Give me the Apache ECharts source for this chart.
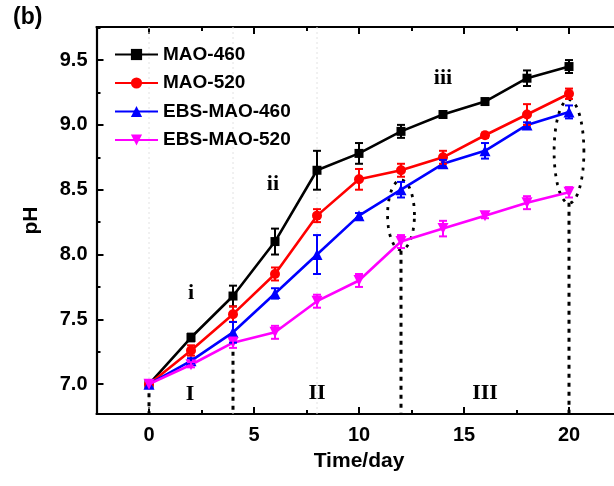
<!DOCTYPE html>
<html>
<head>
<meta charset="utf-8">
<script src="https://cdn.jsdelivr.net/npm/echarts@6/dist/echarts.min.js"></script>
<style>html,body{margin:0;padding:0;background:#fff}#c{width:614px;height:486px}</style>
</head>
<body>
<div id="c"></div>
<script>
// ---- data ----
const days = [0, 2, 4, 6, 8, 10, 12, 14, 16, 18, 20];
const mao460 = [7.00, 7.36, 7.68, 8.10, 8.65, 8.78, 8.95, 9.08, 9.18, 9.36, 9.45];
const mao460Err = [0, 0.03, 0.08, 0.10, 0.15, 0.08, 0.05, 0.02, 0.02, 0.06, 0.05];
const mao520 = [7.00, 7.26, 7.54, 7.85, 8.30, 8.58, 8.65, 8.75, 8.92, 9.08, 9.24];
const mao520Err = [0, 0.04, 0.06, 0.05, 0.05, 0.08, 0.05, 0.05, 0.02, 0.08, 0.04];
const ebs460 = [7.00, 7.18, 7.40, 7.70, 8.00, 8.30, 8.50, 8.70, 8.80, 9.00, 9.10];
const ebs460Err = [0, 0.02, 0.08, 0.04, 0.15, 0.02, 0.06, 0.03, 0.06, 0.02, 0.05];
const ebs520 = [7.00, 7.15, 7.32, 7.40, 7.64, 7.80, 8.10, 8.20, 8.30, 8.40, 8.48];
const ebs520Err = [0, 0.02, 0.04, 0.05, 0.05, 0.05, 0.05, 0.06, 0.02, 0.05, 0.04];
const seriesNames = ['MAO-460', 'MAO-520', 'EBS-MAO-460', 'EBS-MAO-520'];
const xTicks = [0, 5, 10, 15, 20];
const xMinorTicks = [2.5, 7.5, 12.5, 17.5];
const yTicks = [7.0, 7.5, 8.0, 8.5, 9.0, 9.5];
const yMinorTicks = [7.25, 7.75, 8.25, 8.75, 9.25, 9.75];
// annotations (data coordinates)
const dropLines = [[0, 7.0], [4, 7.25], [12, 8.03], [20, 8.40]];
const faintLines = [0, 4, 8];
const ellipses = [[12, 8.305, 0.64, 0.27], [20, 8.795, 0.71, 0.40]];
const stageLabels = [['i', 2, 7.70], ['ii', 5.9, 8.54], ['iii', 14.0, 9.36], ['I', 1.95, 6.925], ['II', 8, 6.93], ['III', 16, 6.93]];

const colors = ['#000000', '#ff0000', '#0000ff', '#ff00ff'];
const symbols = ['rect', 'circle', 'triangle', 'path://M0,0 L10,0 L5,9 Z'];
const symbolSizes = [9, 10, 11, 11];
const values = [mao460, mao520, ebs460, ebs520];
const errs = [mao460Err, mao520Err, ebs460Err, ebs520Err];

const YMIN = 6.77, YMAX = 9.755, XMIN = -2.5, XMAX = 22.5;
const SANS = 'Liberation Sans, Arial, sans-serif';
const SERIF = 'Liberation Serif, Times New Roman, serif';

const chart = echarts.init(document.getElementById('c'), null, {renderer: 'canvas'});

function xAxisDef(pos, ticks, len, showLabel, showLine, name) {
  return {
    type: 'value', position: pos, min: XMIN, max: XMAX, gridIndex: 0,
    axisLine: {show: showLine, onZero: false, lineStyle: {color: '#000', width: 2.2}},
    axisTick: {show: true, inside: true, length: len, customValues: ticks, lineStyle: {color: '#000', width: 2}},
    axisLabel: {show: showLabel, customValues: ticks, margin: 11, color: '#000', fontSize: 20, fontWeight: 'bold', fontFamily: SANS},
    splitLine: {show: false},
    name: name || '', nameLocation: 'middle', nameGap: 37,
    nameTextStyle: {color: '#000', fontSize: 21, fontWeight: 'bold', fontFamily: SANS}
  };
}
function yAxisDef(ticks, len, showLabel, showLine, name) {
  return {
    type: 'value', position: 'left', min: YMIN, max: YMAX, gridIndex: 0,
    axisLine: {show: showLine, onZero: false, lineStyle: {color: '#000', width: 2.2}},
    axisTick: {show: true, inside: true, length: len, customValues: ticks, lineStyle: {color: '#000', width: 2}},
    axisLabel: {show: showLabel, customValues: ticks, margin: 9, color: '#000', fontSize: 20, fontWeight: 'bold', fontFamily: SANS,
      formatter: v => v.toFixed(1)},
    splitLine: {show: false},
    name: name || '', nameLocation: 'middle', nameGap: 55, nameRotate: 90,
    nameTextStyle: {color: '#000', fontSize: 21, fontWeight: 'bold', fontFamily: SANS}
  };
}

const series = [];

// faint guide lines
series.push({
  type: 'custom', name: 'faint', xAxisIndex: 0, yAxisIndex: 0, z: 1, silent: true,
  data: faintLines.map(x => [x]),
  renderItem: (params, api) => {
    const p1 = api.coord([api.value(0), YMIN]);
    const p2 = api.coord([api.value(0), YMAX]);
    return {type: 'line', shape: {x1: p1[0], y1: p1[1], x2: p2[0], y2: p2[1]},
      style: {stroke: '#e2e2e2', lineWidth: 1, lineDash: [2, 3]}};
  }
});
// black dotted drop lines
series.push({
  type: 'custom', name: 'drop', xAxisIndex: 0, yAxisIndex: 0, z: 2, silent: true,
  data: dropLines,
  renderItem: (params, api) => {
    const p1 = api.coord([api.value(0), api.value(1)]);
    const p2 = api.coord([api.value(0), YMIN]);
    return {type: 'line', shape: {x1: p1[0], y1: p1[1], x2: p2[0], y2: p2[1]},
      style: {stroke: '#000', lineWidth: 3, lineDash: [4, 5]}};
  }
});
// ellipses
series.push({
  type: 'custom', name: 'ellipse', xAxisIndex: 0, yAxisIndex: 0, z: 2, silent: true,
  data: ellipses,
  renderItem: (params, api) => {
    const cx = api.value(0), cy = api.value(1), rx = api.value(2), ry = api.value(3);
    const pts = [];
    for (let k = 0; k < 72; k++) {
      const a = k / 72 * Math.PI * 2;
      pts.push(api.coord([cx + rx * Math.cos(a), cy + ry * Math.sin(a)]));
    }
    return {type: 'polygon', shape: {points: pts},
      style: {fill: 'none', stroke: '#000', lineWidth: 2.8, lineDash: [3, 6]}};
  }
});

values.forEach((vals, i) => {
  series.push({
    type: 'line', name: seriesNames[i], xAxisIndex: 0, yAxisIndex: 0, z: 3 + i,
    data: days.map((d, j) => [d, vals[j]]),
    symbol: symbols[i], symbolSize: symbolSizes[i], showSymbol: true,
    itemStyle: {color: colors[i]},
    lineStyle: {color: colors[i], width: 2.6},
    animation: false
  });
  series.push({
    type: 'custom', name: seriesNames[i] + '-err', xAxisIndex: 0, yAxisIndex: 0, z: 8 + i, silent: true,
    data: days.map((d, j) => [d, vals[j], errs[i][j]]),
    renderItem: (params, api) => {
      const x = api.value(0), y = api.value(1), e = api.value(2);
      if (!e) return null;
      const top = api.coord([x, y + e]);
      const bot = api.coord([x, y - e]);
      const st = {stroke: colors[i], lineWidth: 2};
      return {type: 'group', children: [
        {type: 'line', shape: {x1: top[0], y1: top[1], x2: bot[0], y2: bot[1]}, style: st},
        {type: 'line', shape: {x1: top[0] - 4, y1: top[1], x2: top[0] + 4, y2: top[1]}, style: st},
        {type: 'line', shape: {x1: bot[0] - 4, y1: bot[1], x2: bot[0] + 4, y2: bot[1]}, style: st}
      ]};
    }
  });
});

// stage labels
series.push({
  type: 'custom', name: 'stages', xAxisIndex: 0, yAxisIndex: 0, z: 20, silent: true,
  data: stageLabels.map(s => [s[1], s[2]]),
  renderItem: (params, api) => {
    const p = api.coord([api.value(0), api.value(1)]);
    return {type: 'text', x: p[0], y: p[1],
      style: {text: stageLabels[params.dataIndex][0], fill: '#000', font: 'bold 22px ' + SERIF, align: 'center', verticalAlign: 'middle'}};
  }
});

chart.setOption({
  animation: false,
  backgroundColor: '#fff',
  grid: {left: 96.5, top: 27, width: 525, height: 387, containLabel: false, outerBoundsMode: 'none'},
  xAxis: [
    xAxisDef('bottom', xTicks, 7, true, true, 'Time/day'),
    xAxisDef('top', xTicks, 7, false, true),
    xAxisDef('bottom', xMinorTicks, 4, false, false),
    xAxisDef('top', xMinorTicks, 4, false, false)
  ],
  yAxis: [
    yAxisDef(yTicks, 7, true, true, 'pH'),
    yAxisDef(yMinorTicks, 4, false, false)
  ],
  legend: {
    orient: 'vertical', left: 114, top: 45, padding: 0,
    data: seriesNames,
    itemWidth: 43, itemHeight: 14, itemGap: 9.5,
    textStyle: {color: '#000', fontSize: 19, fontWeight: 'bold', fontFamily: SANS, lineHeight: 18},
    selectedMode: false
  },
  graphic: [{type: 'text', left: 13, top: 6,
    style: {text: '(b)', fill: '#000', font: 'bold 23px ' + SANS}}],
  series: series
});
</script>
</body>
</html>
